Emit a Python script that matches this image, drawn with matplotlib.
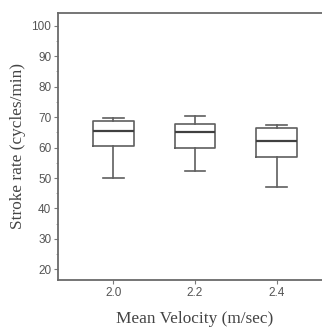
import matplotlib
matplotlib.use("Agg")
import matplotlib.pyplot as plt
from matplotlib.ticker import MultipleLocator

# Stroke rate summary per mean velocity
velocities = [2.0, 2.2, 2.4]
whisker_low = [50.1, 52.3, 47.1]
q1 = [60.6, 59.9, 56.8]
median = [65.5, 65.0, 62.2]
q3 = [68.8, 67.7, 66.3]
whisker_high = [69.6, 70.4, 67.4]
tick_labels = ["2.0", "2.2", "2.4"]

stats = []
for i in range(len(velocities)):
    stats.append(dict(whislo=whisker_low[i], q1=q1[i], med=median[i],
                      q3=q3[i], whishi=whisker_high[i], fliers=[]))

fig = plt.figure(figsize=(3.22, 3.29), dpi=100)
ax = fig.add_axes([58.3 / 322, 1 - 280 / 329, 1 - 58.3 / 322, (280 - 12.7) / 329])

line_col = "#5f5f5f"
ax.bxp(stats, positions=velocities, widths=0.1, capwidths=0.05,
       showfliers=False,
       boxprops=dict(color=line_col, linewidth=1.2),
       medianprops=dict(color="#404040", linewidth=1.6),
       whiskerprops=dict(color=line_col, linewidth=1.2),
       capprops=dict(color=line_col, linewidth=1.2))

ax.set_xlim(1.865, 2.511)
ax.set_ylim(16.5, 104.3)
ax.set_xticks(velocities)
ax.set_xticklabels(tick_labels)
ax.yaxis.set_minor_locator(MultipleLocator(5))
ax.set_yticks(range(20, 101, 10))

for side in ["left", "bottom", "top"]:
    ax.spines[side].set_color("#6a6a6a")
    ax.spines[side].set_linewidth(1.3)
ax.spines["right"].set_visible(False)

ax.tick_params(axis="both", which="major", length=3, width=0.8, color="#7a7a7a",
               labelsize=8.5, labelcolor="#555555", pad=2)
ax.tick_params(axis="y", which="minor", length=1.8, width=0.6, color="#9a9a9a")
for lab in ax.get_xticklabels() + ax.get_yticklabels():
    lab.set_family("Liberation Sans")

ax.set_xlabel("Mean Velocity (m/sec)", family="Liberation Serif", fontsize=12.4,
              color="#444444")
ax.xaxis.set_label_coords((195 - 58.3) / (322 - 58.3), -0.115)
ax.set_ylabel("Stroke rate (cycles/min)", family="Liberation Serif", fontsize=12.4,
              color="#444444", labelpad=4)

fig.savefig("out.png", dpi=100)
